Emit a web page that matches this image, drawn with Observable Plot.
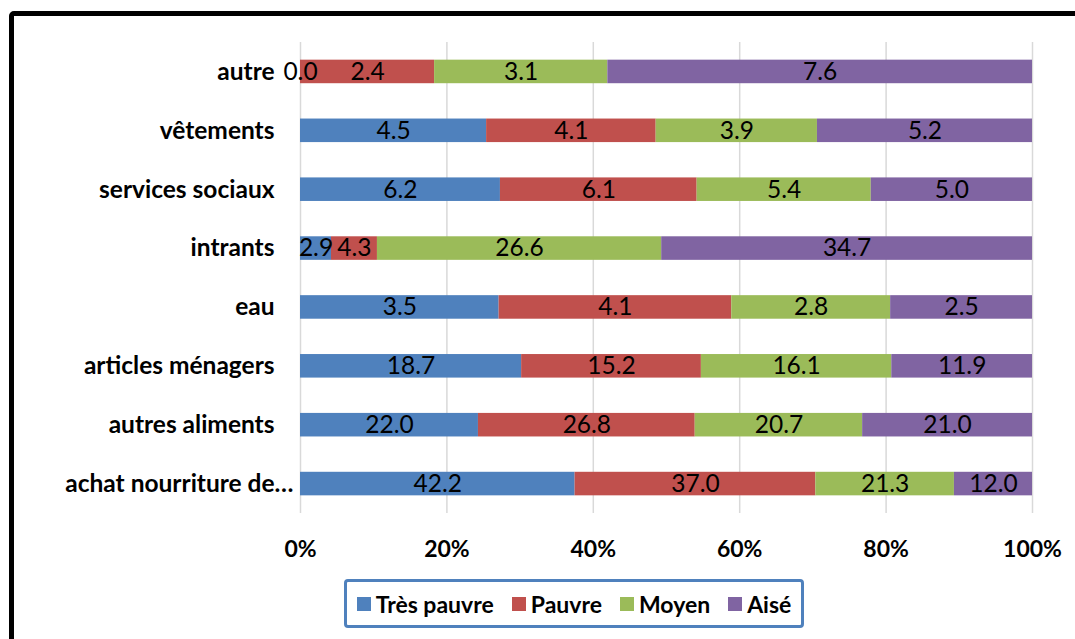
<!DOCTYPE html>
<html>
<head>
<meta charset="utf-8">
<script src="https://cdn.jsdelivr.net/npm/d3@7"></script>
<script src="https://cdn.jsdelivr.net/npm/@observablehq/plot@0.6"></script>
<style>
  html, body { margin: 0; padding: 0; background: #fff; overflow: hidden; }
  #wrap { position: relative; width: 1075px; height: 639px; font-family: Lato, "Open Sans", sans-serif; }
  #frame { position: absolute; left: 9px; top: 11px; width: 1120px; height: 700px; border: 5px solid #000; border-radius: 5px; box-sizing: border-box; }
  #chart { position: absolute; left: 0; top: 0; }
  #legend { position: absolute; left: 344px; top: 579px; width: 460px; height: 49px; box-sizing: border-box;
    border: 3px solid #4F81BD; border-radius: 4px; display: flex; align-items: center; justify-content: center;
    font-weight: bold; font-size: 23px; color: #000; }
  .item { display: flex; align-items: center; margin: 0 9px; }
  .sw { width: 14px; height: 14px; margin-right: 5px; }
</style>
</head>
<body>
<div id="wrap">
  <div id="frame"></div>
  <div id="chart"></div>
  <div id="legend"></div>
</div>
<script>
const categories = ["autre", "vêtements", "services sociaux", "intrants", "eau", "articles ménagers", "autres aliments", "achat nourriture de…"];
const seriesNames = ["Très pauvre", "Pauvre", "Moyen", "Aisé"];
const seriesColors = ["#4F81BD", "#C0504D", "#9BBB59", "#8064A2"];
const tresPauvre = [0.0, 4.5, 6.2, 2.9, 3.5, 18.7, 22.0, 42.2];
const pauvre     = [2.4, 4.1, 6.1, 4.3, 4.1, 15.2, 26.8, 37.0];
const moyen      = [3.1, 3.9, 5.4, 26.6, 2.8, 16.1, 20.7, 21.3];
const aise       = [7.6, 5.2, 5.0, 34.7, 2.5, 11.9, 21.0, 12.0];
const xTicks = [0, 0.2, 0.4, 0.6, 0.8, 1.0];
const xTickLabels = ["0%", "20%", "40%", "60%", "80%", "100%"];

const seriesValues = [tresPauvre, pauvre, moyen, aise];
const table = [];
seriesNames.forEach((s, si) => {
  categories.forEach((c, ci) => {
    table.push({cat: c, series: s, value: seriesValues[si][ci]});
  });
});

const stackOpts = {offset: "normalize", x: "value", y: "cat", z: "series"};
const lastCat = categories[categories.length - 1];

const chart = Plot.plot({
  width: 1075,
  height: 570,
  marginLeft: 300,
  marginRight: 43,
  marginTop: 42,
  marginBottom: 57,
  style: {fontFamily: "Lato, 'Open Sans', sans-serif", background: "transparent"},
  x: {domain: [0, 1], ticks: xTicks, label: null},
  y: {domain: categories, paddingInner: 0.6, paddingOuter: 0.3, round: false, label: null},
  color: {domain: seriesNames, range: seriesColors},
  marks: [
    Plot.gridX(xTicks, {stroke: "#d9d9d9", strokeOpacity: 1, strokeWidth: 1.5}),
    Plot.barX(table, Plot.stackX({...stackOpts, fill: "series"})),
    Plot.text(table, Plot.stackX({...stackOpts, text: d => d.value.toFixed(1), fill: "#000", fontSize: 24.5})),
    Plot.axisX({ticks: xTicks, tickFormat: (d, i) => xTickLabels[i], tickSize: 0, tickPadding: 27,
      fontSize: 23, fontWeight: "bold", fill: "#000", label: null}),
    Plot.axisY({ticks: categories.slice(0, -1), tickSize: 0, tickPadding: 26, fontSize: 24.5, fontWeight: "bold", fill: "#000", label: null}),
    Plot.axisY({ticks: [lastCat], tickSize: 0, tickPadding: 7, fontSize: 24.5, fontWeight: "bold", fill: "#000", label: null})
  ]
});
document.getElementById("chart").appendChild(chart);

const legend = document.getElementById("legend");
seriesNames.forEach((s, i) => {
  const item = document.createElement("div");
  item.className = "item";
  const sw = document.createElement("div");
  sw.className = "sw";
  sw.style.background = seriesColors[i];
  const t = document.createElement("span");
  t.textContent = s;
  item.appendChild(sw);
  item.appendChild(t);
  legend.appendChild(item);
});
</script>
</body>
</html>
